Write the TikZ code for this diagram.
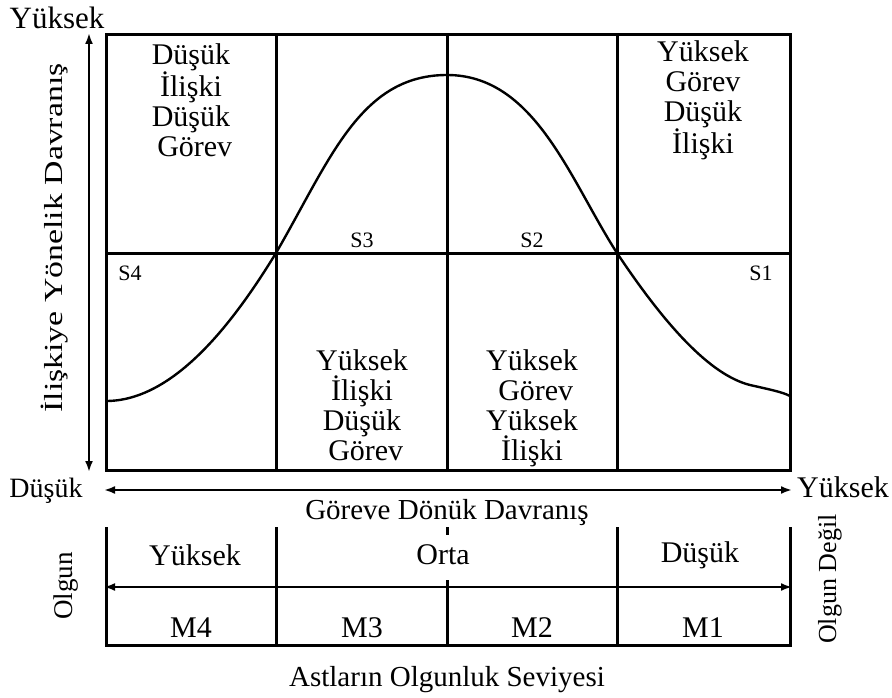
\documentclass[tikz,border=0pt]{standalone}
\usepackage{fontspec}
\setmainfont{Liberation Serif}
\usetikzlibrary{arrows.meta}
\begin{document}
\begin{tikzpicture}[x=1pt,y=-1pt,
  grid/.style={line width=3pt},
  arr/.style={line width=2.2pt,{Latex[length=11pt,width=8pt]}-{Latex[length=11pt,width=8pt]}},
  cell/.style={align=center,inner sep=0pt,font=\fontsize{30}{30}\selectfont},
  lab/.style={inner sep=0pt,font=\fontsize{30}{32}\selectfont},
  slab/.style={inner sep=0pt,font=\fontsize{22}{24}\selectfont},
  vlab/.style={inner sep=0pt,font=\fontsize{26}{28}\selectfont},
  curve/.style={line width=2.4pt}]
\useasboundingbox (0,0) rectangle (892,698);
% upper grid
\draw[grid] (106,35) rectangle (790,470);
\draw[grid] (276,35) -- (276,470);
\draw[grid] (447,35) -- (447,470);
\draw[grid] (617,35) -- (617,470);
\draw[grid] (106,253) -- (790,253);
% curve
\draw[curve] (106,401) .. controls (175,401) and (235,320) .. (276,253)
  .. controls (330,160) and (360,75) .. (447,75)
  .. controls (535,75) and (570,180) .. (617,253)
  .. controls (665,325) and (710,375) .. (750,385)
  .. controls (772,390) and (782,392) .. (790,396);
% cell texts
\node[cell] (c1) at (191,100) {Düşük\\İlişki\\Düşük\\\ Görev};
\node[cell] (c2) at (703,100) {Yüksek\\Görev\\Düşük\\İlişki};
\node[cell] (c3) at (362,405) {Yüksek\\İlişki\\Düşük\\\ Görev};
\node[cell] (c4) at (532,408) {Yüksek\\\ Görev\\Yüksek\\İlişki};
\node[slab] (s4) at (130,273) {S4};
\node[slab] (s1) at (761,273) {S1};
\node[slab] (s3) at (362,240) {S3};
\node[slab] (s2) at (532,240) {S2};
% left axis
\coordinate (la) at (89,33);
\coordinate (lb) at (89,472);
\draw[arr] (la) -- (lb);
\node[lab,font=\fontsize{31}{32}\selectfont] (ytop) at (57,18) {Yüksek};
\node[vlab,rotate=90,xscale=1.3] (ylab) at (55,238) {İlişkiye Yönelik Davranış};
% horizontal axis
\coordinate (ha) at (104,490);
\coordinate (hb) at (792,490);
\draw[arr] (ha) -- (hb);
\node[lab,font=\fontsize{28}{30}\selectfont] (xl) at (46,491) {Düşük};
\node[lab] (xr) at (843,487) {Yüksek};
\node[lab,font=\fontsize{29}{30}\selectfont] (xlab) at (447,513) {Göreve Dönük Davranış};
% lower section
\draw[grid] (106,527) -- (106,645) -- (790,645) -- (790,527);
\draw[grid] (276,527) -- (276,645);
\draw[grid] (617,527) -- (617,645);
\draw[grid] (447,527) -- (447,535);
\draw[grid] (447,580) -- (447,645);
\coordinate (ma) at (104,587);
\coordinate (mb) at (792,587);
\draw[arr] (ma) -- (mb);
\node[lab] (m1) at (195,555) {Yüksek};
\node[lab] (m2) at (443,555) {Orta};
\node[lab] (m3) at (700,555) {Düşük};
\node[lab] (n4) at (191,628) {M4};
\node[lab] (n3) at (362,628) {M3};
\node[lab] (n2) at (532,628) {M2};
\node[lab] (n1) at (703,628) {M1};
\node[vlab,font=\fontsize{27}{28}\selectfont,rotate=90,anchor=west] (olg) at (66,620) {Olgun};
\node[vlab,rotate=90,anchor=west] (od) at (830,644) {Olgun Değil};
\node[lab,font=\fontsize{29}{30}\selectfont] (ast) at (447,680) {Astların Olgunluk Seviyesi};
\end{tikzpicture}
\end{document}
